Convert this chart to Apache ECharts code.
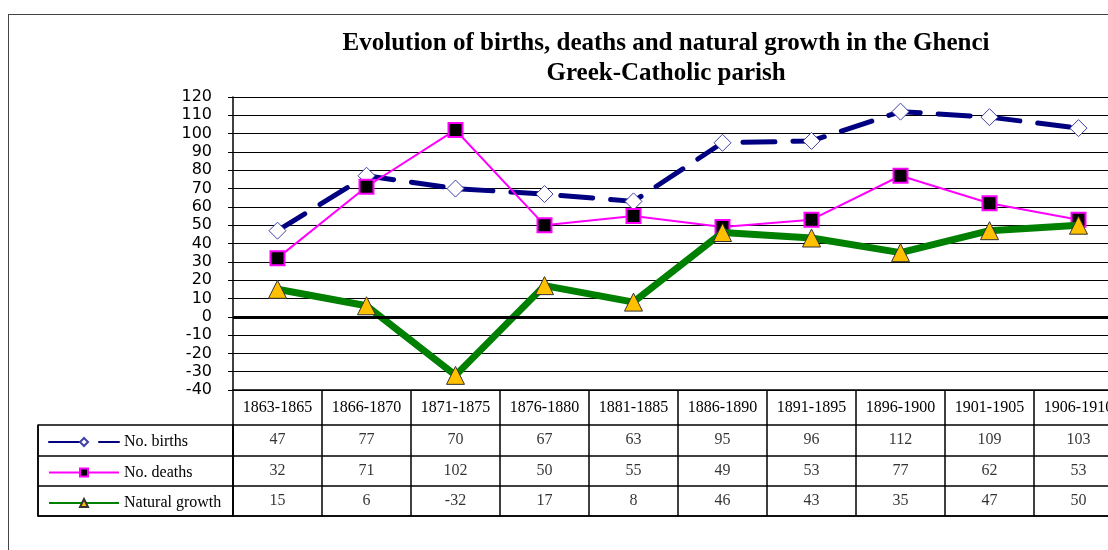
<!DOCTYPE html>
<html>
<head>
<meta charset="utf-8">
<script src="https://cdn.jsdelivr.net/npm/echarts@6/dist/echarts.min.js"></script>
<style>
html,body{margin:0;padding:0;background:#fff;overflow:hidden;}
#frame{position:absolute;left:8px;top:14px;width:1300px;height:700px;border:1.5px solid #444;box-sizing:border-box;}
#chart{position:absolute;left:0;top:0;width:1108px;height:550px;}
</style>
</head>
<body>
<div id="frame"></div>
<div id="chart"></div>
<script>
var categories = ['1863-1865','1866-1870','1871-1875','1876-1880','1881-1885','1886-1890','1891-1895','1896-1900','1901-1905','1906-1910'];
var births = [47,77,70,67,63,95,96,112,109,103];
var deaths = [32,71,102,50,55,49,53,77,62,53];
var growth = [15,6,-32,17,8,46,43,35,47,50];
var seriesNames = ['No. births','No. deaths','Natural growth'];
var yMin = -40, yMax = 120, yStep = 10;

var rows = [births, deaths, growth];
var tableData = [];
rows.forEach(function(r, ri){ r.forEach(function(v, ci){ tableData.push([ci, ri, v]); }); });

var serif = '"Liberation Serif","Times New Roman",serif';
var chart = echarts.init(document.getElementById('chart'));
chart.setOption({
  animation:false,
  title:{
    text:'Evolution of births, deaths and natural growth in the Ghenci\nGreek-Catholic parish',
    left:661, top:24, textAlign:'center',
    textStyle:{fontFamily:serif,fontWeight:'bold',fontSize:25,lineHeight:30,color:'#000'}
  },
  legend:{
    orient:'vertical', left:43, top:429, itemWidth:70, itemHeight:10, itemGap:14.5,
    data:seriesNames,
    selectedMode:false,
    lineStyle:{width:2},
    textStyle:{fontFamily:serif,fontSize:16,color:'#000',lineHeight:16}
  },
  grid:[
    {left:233, width:890, top:97, height:293, outerBoundsMode:'none', containLabel:false},
    {left:38, width:195, top:425, height:91, outerBoundsMode:'none', containLabel:false},
    {left:233, width:890, top:425, height:91, outerBoundsMode:'none', containLabel:false}
  ],
  xAxis:[
    {type:'category', gridIndex:0, data:categories, boundaryGap:true,
     axisLine:{onZero:false, lineStyle:{color:'#000',width:1.5}},
     axisTick:{show:true, interval:0, length:35, lineStyle:{color:'#000',width:1.5}},
     axisLabel:{interval:0, margin:10, fontFamily:serif, fontSize:16, color:'#000'},
     splitLine:{show:false}},
    {type:'category', gridIndex:1, data:[''], boundaryGap:true,
     axisLine:{show:true, lineStyle:{color:'#000',width:1.5}}, axisTick:{show:false}, axisLabel:{show:false},
     splitLine:{show:true, interval:0, lineStyle:{color:'#000',width:1.5}}},
    {type:'category', gridIndex:2, data:categories, boundaryGap:true,
     axisLine:{show:true, lineStyle:{color:'#000',width:1.5}}, axisTick:{show:false}, axisLabel:{show:false},
     splitLine:{show:true, interval:0, lineStyle:{color:'#000',width:1.5}}}
  ],
  yAxis:[
    {type:'value', gridIndex:0, min:yMin, max:yMax, interval:yStep,
     axisLine:{show:true, lineStyle:{color:'#000',width:1.5}},
     axisTick:{show:true, length:5, lineStyle:{color:'#000'}},
     axisLabel:{margin:21, fontFamily:'"DejaVu Sans",Verdana,sans-serif', fontSize:16, color:'#000'},
     splitLine:{show:true, lineStyle:{color:'#000',width:1}}},
    {type:'category', gridIndex:1, data:seriesNames, inverse:true, boundaryGap:true,
     axisLine:{show:true, lineStyle:{color:'#000',width:1.5}}, axisTick:{show:false}, axisLabel:{show:false},
     splitLine:{show:true, interval:0, lineStyle:{color:'#000',width:1.5}}},
    {type:'category', gridIndex:2, data:seriesNames, inverse:true, boundaryGap:true,
     axisLine:{show:true, lineStyle:{color:'#000',width:1.5}}, axisTick:{show:false}, axisLabel:{show:false},
     splitLine:{show:true, interval:0, lineStyle:{color:'#000',width:1.5}}}
  ],
  series:[
    {name:seriesNames[0], type:'line', data:births, xAxisIndex:0, yAxisIndex:0,
     symbol:'diamond', symbolSize:17,
     itemStyle:{color:'#fff', borderColor:'#4040a8', borderWidth:1},
     lineStyle:{color:'#000080', width:5, type:[32,18], cap:'round'},
     z:2,
     markLine:{silent:true, symbol:'none', label:{show:false},
       lineStyle:{color:'#000', width:3, type:'solid'}, data:[{yAxis:0}]}},
    {name:seriesNames[1], type:'line', data:deaths, xAxisIndex:0, yAxisIndex:0,
     symbol:'rect', symbolSize:14,
     itemStyle:{color:'#000', borderColor:'#ff00ff', borderWidth:2},
     lineStyle:{color:'#ff00ff', width:2}, z:3},
    {name:seriesNames[2], type:'line', data:growth, xAxisIndex:0, yAxisIndex:0,
     symbol:'triangle', symbolSize:18,
     itemStyle:{color:'#ffc000', borderColor:'#333', borderWidth:1},
     lineStyle:{color:'#008000', width:7}, z:4},
    {type:'scatter', xAxisIndex:2, yAxisIndex:2, data:tableData, symbolSize:1,
     itemStyle:{color:'rgba(0,0,0,0)'}, silent:true,
     label:{show:true, position:'inside', formatter:function(p){return String(p.value[2]);},
       fontFamily:serif, fontSize:16, color:'#000'}}
  ]
});
</script>
</body>
</html>
